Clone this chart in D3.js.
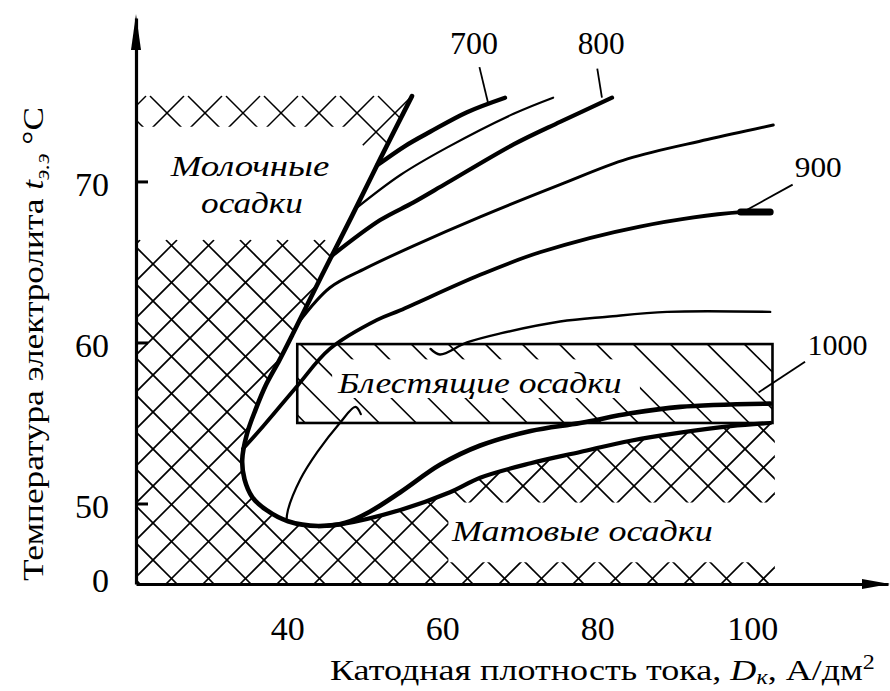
<!DOCTYPE html>
<html><head><meta charset="utf-8">
<script src="https://cdn.jsdelivr.net/npm/d3@7"></script>
<style>
html,body{margin:0;padding:0;background:#fff;}
svg{display:block;}
svg text{font-family:"Liberation Serif","Times New Roman",Times,serif !important;fill:#000;}
</style></head><body>
<svg id="chart" width="890" height="691"></svg>
<script>
// ---------- data (current density D, A/dm2 ; temperature t, °C) ----------
const xTickValues = [40, 60, 80, 100];
const xTickLabels = ["40", "60", "80", "100"];
const yTickValues = [45.4, 50, 60, 70];
const yTickLabels = ["0", "50", "60", "70"];
const yTickMarks = [50, 60, 70];

// main boundary: steep line, C-turn and upper bottom branch (curve 1000)
const boundaryCurve = [[56.1,75.3],[52.0,71.4],[48.3,67.8],[46.3,65.9],[44.4,64.1],[40.8,60.6],[39.0,58.9],[37.3,57.4],[35.9,55.8],[34.8,54.3],[34.2,52.7],[34.5,51.5],[35.5,50.4],[37.3,49.6],[40.1,48.9],[44.0,48.6],[47.5,48.8],[50.7,49.5],[54.6,50.7],[59.7,52.4],[64.9,53.6],[71.4,54.5],[77.8,55.0],[84.3,55.6],[90.7,56.0],[102.3,56.2]];
const lowerBranch = [[44.0,48.6],[46.8,48.7],[54.6,49.6],[61.0,50.7],[64.9,51.6],[71.4,52.5],[77.8,53.2],[84.3,53.9],[90.7,54.4],[97.2,54.8],[102.3,55.0]];
const curve700 = [[51.6,71.0],[55.2,72.2],[58.5,73.1],[63.2,74.3],[68.1,75.2]];
const curveThinA = [[48.8,68.3],[54.6,70.4],[60.6,72.1],[69.2,74.2],[74.3,75.2]];
const curve800 = [[45.8,65.4],[52.0,67.6],[56.3,68.7],[60.6,69.9],[69.2,72.3],[75.2,73.7],[81.9,75.2]];
const curveMid = [[41.4,61.2],[45.5,63.4],[50.1,64.6],[56.3,66.0],[64.9,67.8],[75.2,69.8],[83.9,71.4],[94.2,72.6],[102.7,73.5]];
const curve900 = [[34.3,53.4],[36.9,54.8],[41.3,57.3],[45.5,59.6],[51.6,61.4],[54.6,62.0],[64.9,64.2],[72.6,65.6],[85.5,67.2],[98.5,68.1],[102.3,68.1]];
const curveThinB = [[58.5,59.6],[59.7,59.25],[63.2,60.0],[67.5,60.56],[75.2,61.3],[81.3,61.6],[89.0,61.9],[102.3,61.9]];
const curveInner = [[39.9,48.9],[40.1,49.6],[41.7,51.5],[43.9,53.2],[46.8,55.0],[48.8,56.0],[49.5,55.55]];

const curveLabels = ["700", "800", "900", "1000"];
const labelAnchors = [[64.1,77.9],[80.5,77.9],[108.5,70.3],[111.0,59.25]];
const leaderLines = [[[64.8,77.1],[65.9,74.9]],[[80.0,77.0],[80.6,75.2]],[[105.2,69.8],[98.8,68.1]],[[106.8,58.8],[100.8,56.9]]];

const brightBox = {x0: 41.3, x1: 102.6, y0: 55.0, y1: 59.9};
const regionNames = ["Молочные", "осадки", "Блестящие осадки", "Матовые осадки"];

// ---------- chart ----------
const svg = d3.select("#chart");
const x = d3.scaleLinear().domain([20.5, 117.5]).range([136, 888]);
const y = d3.scaleLinear().domain([45, 80.15]).range([584, 18]);
const smooth = d3.line().x(d => x(d[0])).y(d => y(d[1])).curve(d3.curveCatmullRom.alpha(0.5));
const poly = d3.line().x(d => x(d[0])).y(d => y(d[1]));

const defs = svg.append("defs");
// hatched areas
const leftRegion = [[20.5,66.4],[46.7,66.4]].concat(boundaryCurve.slice(3,16), lowerBranch, [[102.9,55.0],[102.9,45],[20.5,45]]);
const topBand = [[20.5,75.35],[56.3,75.35],[51.8,71.2],[47.5,73.4],[20.5,73.4]];
defs.append("clipPath").attr("id","clipLeft").append("path").attr("d", poly(leftRegion) + "Z");
defs.append("clipPath").attr("id","clipTop").append("path").attr("d", poly(topBand) + "Z");
defs.append("clipPath").attr("id","clipBox").append("rect")
  .attr("x", x(brightBox.x0)).attr("y", y(brightBox.y1))
  .attr("width", x(brightBox.x1) - x(brightBox.x0)).attr("height", y(brightBox.y0) - y(brightBox.y1));

function hatch(g, bx0, by0, bx1, by1, step, dirs, phase) {
  const h = by1 - by0;
  dirs.forEach(dir => {
    for (let c = bx0 - h - step + phase; c <= bx1 + step; c += step) {
      if (dir === 1) g.append("line").attr("x1", c).attr("y1", by0).attr("x2", c + h).attr("y2", by1);
      else g.append("line").attr("x1", c).attr("y1", by1).attr("x2", c + h).attr("y2", by0);
    }
  });
}
const gL = svg.append("g").attr("clip-path","url(#clipLeft)").attr("stroke","#000").attr("stroke-width",1.7);
hatch(gL, 136, 240, 780, 584, 37, [1, -1], 4);
const gT = svg.append("g").attr("clip-path","url(#clipTop)").attr("stroke","#000").attr("stroke-width",1.5);
hatch(gT, 136, 96, 415, 168, 38, [1, -1], 10);
const gB = svg.append("g").attr("clip-path","url(#clipBox)").attr("stroke","#000").attr("stroke-width",1.6);
hatch(gB, x(brightBox.x0), y(brightBox.y1), x(brightBox.x1), y(brightBox.y0), 37, [1], 8);
// blank zones behind the region labels
svg.append("rect").attr("fill","#fff")
  .attr("x", x(60.8)).attr("y", y(50.06)).attr("width", x(103.3) - x(60.8)).attr("height", y(46.35) - y(50.06));
svg.append("rect").attr("fill","#fff").attr("clip-path","url(#clipBox)")
  .attr("x", x(45.8)).attr("y", y(58.95)).attr("width", x(85.5) - x(45.8)).attr("height", y(56.55) - y(58.95));
// rectangle outline
svg.append("rect").attr("fill","none").attr("stroke","#000").attr("stroke-width",2.6)
  .attr("x", x(brightBox.x0)).attr("y", y(brightBox.y1))
  .attr("width", x(brightBox.x1) - x(brightBox.x0)).attr("height", y(brightBox.y0) - y(brightBox.y1));

// curves
const curves = [
  [boundaryCurve, 4.6], [lowerBranch, 4.2], [curve700, 4.4], [curveThinA, 2.2], [curve800, 4.2],
  [curveMid, 3.0], [curve900, 3.8], [curveThinB, 2.4], [curveInner, 2.2]
];
curves.forEach(([pts, w]) => svg.append("path").attr("d", smooth(pts)).attr("fill","none")
  .attr("stroke","#000").attr("stroke-width", w).attr("stroke-linecap","round").attr("stroke-linejoin","round"));
svg.append("path").attr("d", smooth(curve900.slice(-2))).attr("stroke","#000").attr("stroke-width",7).attr("stroke-linecap","round");

// leaders
leaderLines.forEach(l => svg.append("path").attr("d", poly(l)).attr("stroke","#000").attr("stroke-width",1.8).attr("fill","none"));

// axes
const yAxis = d3.axisLeft(y).tickValues(yTickValues).tickFormat((d, i) => yTickLabels[i])
  .tickSizeInner(-12).tickSizeOuter(0).tickPadding(27);
const gy = svg.append("g").attr("transform", `translate(${x(20.5)},0)`).call(yAxis);
gy.attr("font-family", null).attr("font-size", null);
gy.select(".domain").attr("stroke-width", 3.2);
gy.selectAll(".tick line").attr("stroke-width", 3).filter(d => !yTickMarks.includes(d)).remove();
gy.selectAll(".tick text").attr("font-size", 34).attr("dy", "0.42em");

const xAxis = d3.axisBottom(x).tickValues(xTickValues).tickFormat((d, i) => xTickLabels[i])
  .tickSize(0).tickPadding(32);
const gx = svg.append("g").attr("transform", `translate(0,${y(45)})`).call(xAxis);
gx.attr("font-family", null).attr("font-size", null);
gx.select(".domain").attr("stroke-width", 3.2);
gx.selectAll(".tick text").attr("font-size", 34);

// arrow heads
const xa = x(117.5), ya = y(45), yt = y(80.15);
svg.append("path").attr("d", `M${xa + 2},${ya}L${xa - 26},${ya - 5}L${xa - 26},${ya + 5}Z`).attr("fill","#000");
svg.append("path").attr("d", `M136,${yt - 4}L131,${yt + 32}L141,${yt + 32}Z`).attr("fill","#000");

// text helper: scale horizontally to a target width
function fitText(t, cx, by, w, rot) {
  const bw = t.node().getBBox().width;
  const s = w / bw;
  t.attr("transform", `translate(${cx},${by})` + (rot ? ` rotate(${rot})` : "") + ` scale(${s},1)`);
}
function label(str, cx, by, size, w, italic, anchor) {
  const t = svg.append("text").attr("font-size", size)
    .attr("font-style", italic ? "italic" : "normal").attr("text-anchor", anchor || "middle").text(str);
  fitText(t, cx, by, w);
  return t;
}

// curve labels
const labelSizes = [32, 32, 30, 30], labelWidths = [48, 47, 47, 60];
curveLabels.forEach((s, i) => label(s, x(labelAnchors[i][0]), y(labelAnchors[i][1]), labelSizes[i], labelWidths[i], false));

// region labels
label(regionNames[0], 250, 176, 30, 160, true);
label(regionNames[1], 252, 213, 30, 102, true);
label(regionNames[2], 338, 393, 30, 285, true, "start");
label(regionNames[3], 452, 541, 30, 262, true, "start");

// axis titles
const xt = svg.append("text").attr("font-size", 30).attr("text-anchor","start");
xt.append("tspan").text("Катодная плотность тока, ");
xt.append("tspan").attr("font-style","italic").text("D");
xt.append("tspan").attr("font-style","italic").attr("font-size", 20).attr("dy", 4).text("к");
xt.append("tspan").attr("dy", -4).text(", А/дм");
xt.append("tspan").attr("font-size", 20).attr("dy", -11).text("2");
fitText(xt, 330, 680, 545);

const yt2 = svg.append("text").attr("font-size", 30).attr("text-anchor","start");
yt2.append("tspan").text("Температура электролита ");
yt2.append("tspan").attr("font-style","italic").text("t");
yt2.append("tspan").attr("font-style","italic").attr("font-size", 20).attr("dy", 6).text("э.э");
yt2.append("tspan").attr("dy", -6).text(" °C");
fitText(yt2, 43, 581, 474, -90);
</script>
</body></html>
